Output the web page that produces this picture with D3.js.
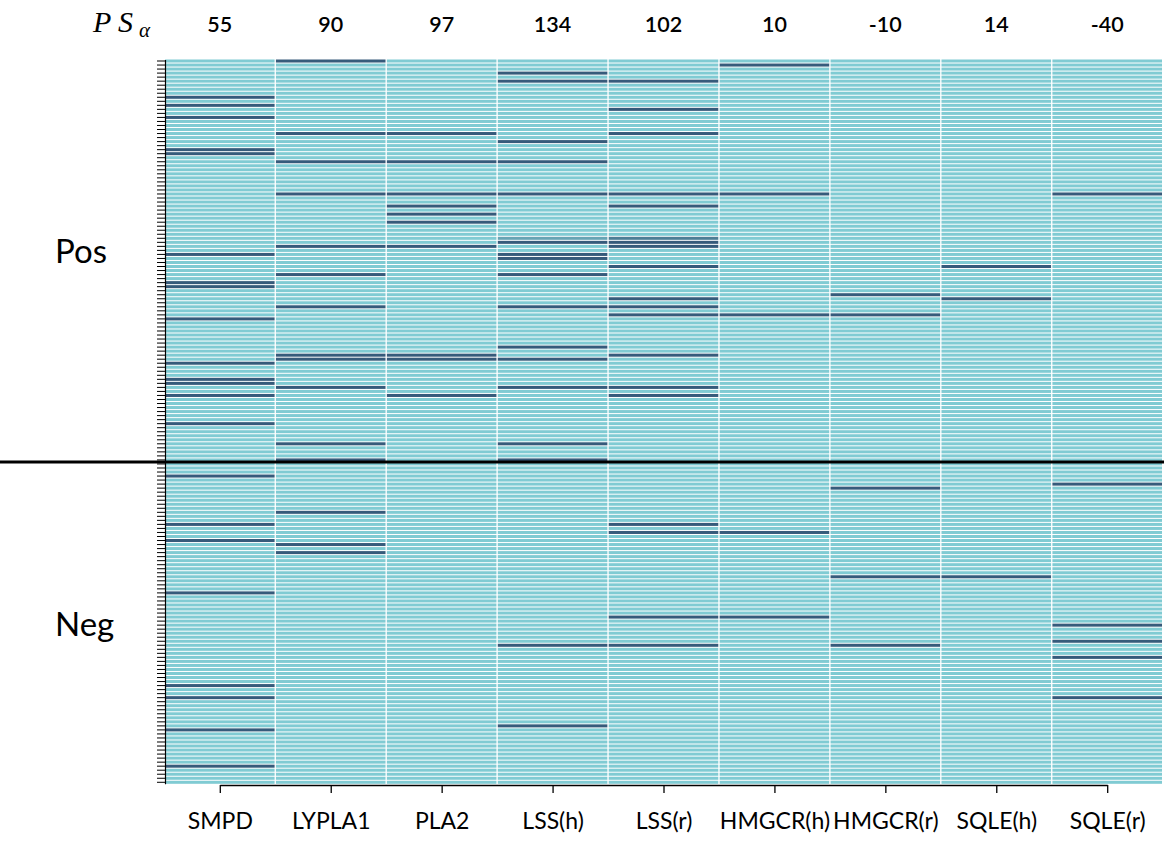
<!DOCTYPE html>
<html>
<head>
<meta charset="utf-8">
<script src="https://cdn.jsdelivr.net/npm/d3@7"></script>
<style>
  body { margin: 0; background: #fff; }
  svg { display: block; }
</style>
</head>
<body>
<svg id="chart" width="1170" height="843"></svg>
<script>
// ---------------- data ----------------
const genes = ["SMPD", "LYPLA1", "PLA2", "LSS(h)", "LSS(r)", "HMGCR(h)", "HMGCR(r)", "SQLE(h)", "SQLE(r)"];
const psAlpha = [55, 90, 97, 134, 102, 10, -10, 14, -40];
const groupLabels = ["Pos", "Neg"];
const nPos = 100;
const nNeg = 80;

// row indices (0 = top row) that are "hits" in each column
const hitsSMPD   = [9, 11, 14, 22, 23, 48, 55, 56, 64, 75, 79, 80, 83, 90, 103, 115, 119, 132, 155, 158, 166, 175];
const hitsLYPLA1 = [0, 18, 25, 33, 46, 53, 61, 73, 74, 81, 95, 99, 112, 120, 122];
const hitsPLA2   = [18, 25, 33, 36, 38, 40, 46, 73, 74, 83];
const hitsLSSh   = [3, 5, 20, 25, 33, 45, 48, 49, 53, 61, 71, 74, 81, 95, 99, 145, 165];
const hitsLSSr   = [5, 12, 18, 33, 36, 45, 46, 51, 59, 61, 63, 73, 81, 83, 115, 117, 138, 145];
const hitsHMGCRh = [1, 33, 63, 117, 138];
const hitsHMGCRr = [58, 63, 106, 128, 145];
const hitsSQLEh  = [51, 59, 128];
const hitsSQLEr  = [33, 105, 140, 144, 148, 158];
// weaker cells (value between 0 and 1)
const weakLSSh = [{ row: 44, value: 0.35 }];
const weakLSSr = [{ row: 44, value: 0.7 }];

// ---------------- build table ----------------
const hitLists = [hitsSMPD, hitsLYPLA1, hitsPLA2, hitsLSSh, hitsLSSr, hitsHMGCRh, hitsHMGCRr, hitsSQLEh, hitsSQLEr];
const weakLists = [[], [], [], weakLSSh, weakLSSr, [], [], [], []];
const rows = d3.range(nPos + nNeg);
const cells = [];
genes.forEach((g, i) => {
  rows.forEach(r => {
    let v = hitLists[i].includes(r) ? 1 : 0;
    const w = weakLists[i].find(d => d.row === r);
    if (w) v = w.value;
    cells.push({ gene: g, row: r, value: v });
  });
});

// ---------------- drawing ----------------
const svg = d3.select("#chart");
const fontSans = "Lato, 'Open Sans', 'DejaVu Sans', sans-serif";

const x = d3.scaleBand().domain(genes).range([165, 1162]).paddingInner(0.012);
const y = d3.scaleBand().domain(rows).range([59.5, 783.8]).paddingInner(0.25);
const color = d3.scaleLinear().domain([0, 1]).range(["#80cbd3", "#365b7b"]).interpolate(d3.interpolateRgb);

svg.append("g")
  .selectAll("rect")
  .data(cells)
  .join("rect")
  .attr("x", d => x(d.gene))
  .attr("y", d => y(d.row))
  .attr("width", x.bandwidth())
  .attr("height", y.bandwidth())
  .attr("fill", d => color(d.value));

// left axis: one tick per row
const yAxis = d3.axisLeft(y).tickFormat("").tickSize(8).tickSizeOuter(0);
const gy = svg.append("g").attr("transform", "translate(165,0)").call(yAxis);
gy.selectAll("line").attr("stroke", "#000").attr("stroke-width", 1);
gy.select(".domain").attr("stroke", "#000").attr("stroke-width", 1.2);

// bottom axis: ticks at column centres, domain from first to last tick
const half = x.bandwidth() / 2;
const xp = d3.scalePoint().domain(genes).range([x(genes[0]) + half, x(genes[genes.length - 1]) + half]);
const xAxis = d3.axisBottom(xp).tickSize(8).tickSizeOuter(0).tickPadding(20);
const gx = svg.append("g").attr("transform", "translate(0,785)").call(xAxis);
gx.select(".domain").attr("stroke", "#000").attr("stroke-width", 1.3);
gx.selectAll("line").attr("stroke", "#000").attr("stroke-width", 1.3);
gx.selectAll("text")
  .attr("font-family", fontSans)
  .attr("font-size", 23)
  .attr("fill", "#000");

// top PS_alpha values
svg.append("g")
  .selectAll("text")
  .data(genes)
  .join("text")
  .attr("x", d => xp(d))
  .attr("y", 32)
  .attr("text-anchor", "middle")
  .attr("font-family", fontSans)
  .attr("font-size", 21.5)
  .attr("font-weight", 600)
  .attr("fill", "#000")
  .text((d, i) => psAlpha[i]);

// PS_alpha row title (math italic)
const ps = svg.append("text")
  .attr("y", 32)
  .attr("font-family", "'Liberation Serif', 'DejaVu Serif', serif")
  .attr("font-style", "italic")
  .attr("font-size", 30)
  .attr("fill", "#000");
ps.append("tspan").attr("x", 93).text("P");
ps.append("tspan").attr("x", 118).text("S");
ps.append("tspan").attr("x", 139).attr("dy", 5).attr("font-size", 21).text("α");

// separator between Pos and Neg
const sepY = y(nPos) - y.step() * y.paddingInner() / 2;
svg.append("line")
  .attr("x1", 0).attr("x2", 1164)
  .attr("y1", sepY).attr("y2", sepY)
  .attr("stroke", "#000")
  .attr("stroke-width", 3);

// group labels
svg.append("g")
  .selectAll("text")
  .data(groupLabels)
  .join("text")
  .attr("x", 55)
  .attr("y", (d, i) => i === 0 ? 263 : 636)
  .attr("font-family", fontSans)
  .attr("font-size", 33)
  .attr("fill", "#000")
  .text(d => d);
</script>
</body>
</html>
